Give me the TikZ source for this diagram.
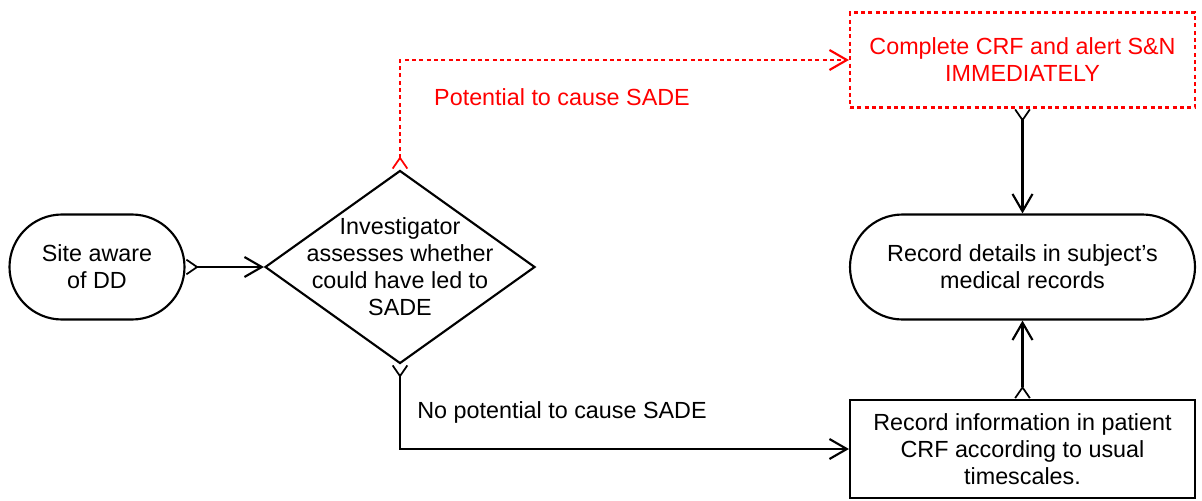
\documentclass[tikz,border=0pt]{standalone}
\usepackage{fontspec}
\setmainfont{Liberation Sans}
\usetikzlibrary{shapes.geometric,shapes.misc,arrows.meta}
\definecolor{redc}{RGB}{255,0,0}
\tikzset{
  px/.style={x=0.75pt,y=-0.75pt},
  box/.style={draw=black,line width=1.6pt,inner sep=0pt,align=center,font=\fontsize{17.5}{20.25}\selectfont},
  conn/.style={line width=1.6pt,arrows={Straight Barb[reversed,length=8pt,width=11pt,line width=1.3pt]-Straight Barb[length=13pt,width=15pt,line width=1.6pt]}},
  redconn/.style={conn,draw=redc,dash pattern=on 3pt off 2.5pt},
  lbl/.style={font=\fontsize{17.5}{20.25}\selectfont,inner sep=0pt}
}
\begin{document}
\begin{tikzpicture}[px]
\useasboundingbox (0,0) rectangle (1202,500);
\node[box,rounded rectangle,minimum width=131.25pt,minimum height=78.75pt] (site) at (97,267) {Site aware\\of DD};
\node[draw=black,line width=1.6pt,diamond,minimum width=202.5pt,minimum height=144.75pt,inner sep=0pt] (dia) at (400,267) {};
\node[lbl,align=center] (diatext) at (400,267) {Investigator\\assesses whether\\could have led to\\SADE};
\node[box,draw=redc,text=redc,dash pattern=on 3pt off 2.5pt,minimum width=258.75pt,minimum height=71.25pt] (crf) at (1022.5,60) {Complete CRF and alert S\&N\\IMMEDIATELY};
\node[box,rounded rectangle,minimum width=258.75pt,minimum height=78.75pt] (rec) at (1022.5,267) {Record details in subject’s\\medical records};
\node[box,minimum width=258.75pt,minimum height=73.5pt] (info) at (1022.5,449) {Record information in patient\\CRF according to usual\\timescales.};
\coordinate (c1) at (400,60);
\coordinate (c2) at (400,449);
\draw[conn] (site.east) -- (dia.west);
\draw[redconn] (dia.north) -- (c1) -- (crf.west);
\draw[conn] (dia.south) -- (c2) -- (info.west);
\draw[conn] (crf.south) -- (rec.north);
\draw[conn] (info.north) -- (rec.south);
\node[lbl,text=redc] (pot) at (562,97) {Potential to cause SADE};
\node[lbl] (nopot) at (562,412) {No potential to cause SADE};
\end{tikzpicture}
\end{document}
